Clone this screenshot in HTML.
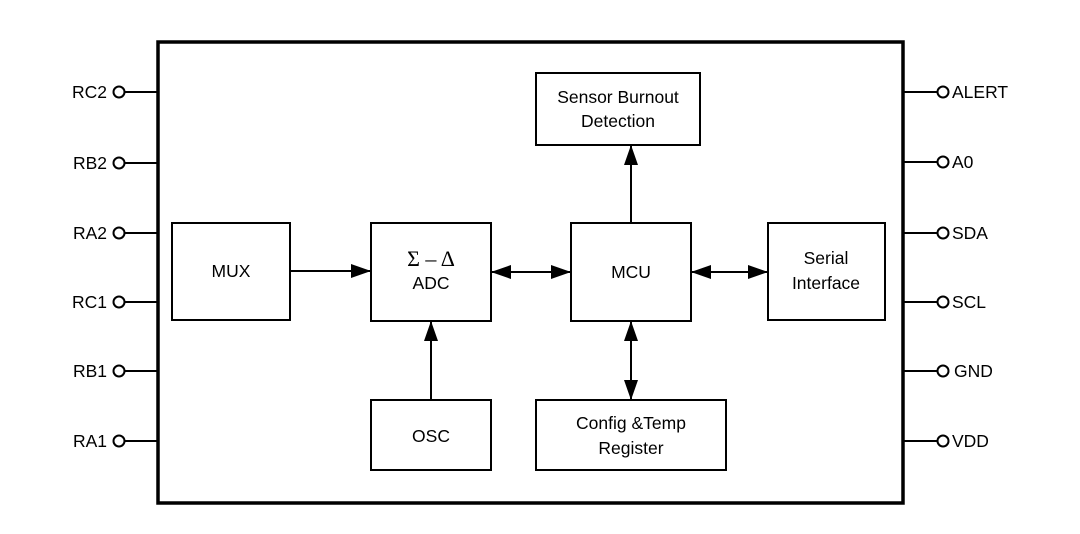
<!DOCTYPE html>
<html><head><style>body{margin:0;background:#fff}</style></head><body>
<svg width="1080" height="529" viewBox="0 0 1080 529" xmlns="http://www.w3.org/2000/svg" font-family="Liberation Sans, sans-serif" font-size="17.5" fill="#000">
<defs>
<marker id="a" markerWidth="20" markerHeight="14" refX="20" refY="7" orient="auto-start-reverse" markerUnits="userSpaceOnUse"><path d="M0,0 L20,7 L0,14 z" fill="#000"/></marker>
</defs>
<rect x="158" y="42" width="745" height="461" fill="none" stroke="#000" stroke-width="3.5"/>
<g stroke="#000" stroke-width="2" fill="none">
<line x1="125" y1="92" x2="158" y2="92"/><circle cx="119" cy="92" r="5.5" fill="#fff"/>
<line x1="125" y1="163" x2="158" y2="163"/><circle cx="119" cy="163" r="5.5" fill="#fff"/>
<line x1="125" y1="233" x2="158" y2="233"/><circle cx="119" cy="233" r="5.5" fill="#fff"/>
<line x1="125" y1="302" x2="158" y2="302"/><circle cx="119" cy="302" r="5.5" fill="#fff"/>
<line x1="125" y1="371" x2="158" y2="371"/><circle cx="119" cy="371" r="5.5" fill="#fff"/>
<line x1="125" y1="441" x2="158" y2="441"/><circle cx="119" cy="441" r="5.5" fill="#fff"/>
<line x1="903" y1="92" x2="937" y2="92"/><circle cx="943" cy="92" r="5.5" fill="#fff"/>
<line x1="903" y1="162" x2="937" y2="162"/><circle cx="943" cy="162" r="5.5" fill="#fff"/>
<line x1="903" y1="233" x2="937" y2="233"/><circle cx="943" cy="233" r="5.5" fill="#fff"/>
<line x1="903" y1="302" x2="937" y2="302"/><circle cx="943" cy="302" r="5.5" fill="#fff"/>
<line x1="903" y1="371" x2="937" y2="371"/><circle cx="943" cy="371" r="5.5" fill="#fff"/>
<line x1="903" y1="441" x2="937" y2="441"/><circle cx="943" cy="441" r="5.5" fill="#fff"/>
<rect x="172" y="223" width="118" height="97"/>
<rect x="371" y="223" width="120" height="98"/>
<rect x="571" y="223" width="120" height="98"/>
<rect x="768" y="223" width="117" height="97"/>
<rect x="536" y="73" width="164" height="72"/>
<rect x="371" y="400" width="120" height="70"/>
<rect x="536" y="400" width="190" height="70"/>
<line x1="290" y1="271" x2="371" y2="271" marker-end="url(#a)"/>
<line x1="491" y1="272" x2="571" y2="272" marker-start="url(#a)" marker-end="url(#a)"/>
<line x1="691" y1="272" x2="768" y2="272" marker-start="url(#a)" marker-end="url(#a)"/>
<line x1="431" y1="400" x2="431" y2="321" marker-end="url(#a)"/>
<line x1="631" y1="321" x2="631" y2="400" marker-start="url(#a)" marker-end="url(#a)"/>
<line x1="631" y1="223" x2="631" y2="145" marker-end="url(#a)"/>
</g>
<g text-anchor="end">
<text x="107" y="98">RC2</text><text x="107" y="169">RB2</text><text x="107" y="239">RA2</text>
<text x="107" y="308">RC1</text><text x="107" y="377">RB1</text><text x="107" y="447">RA1</text>
</g>
<g>
<text x="952" y="98">ALERT</text><text x="952" y="168">A0</text><text x="952" y="239">SDA</text>
<text x="952" y="308">SCL</text><text x="954" y="377">GND</text><text x="952" y="447">VDD</text>
</g>
<g text-anchor="middle">
<text x="231" y="277">MUX</text>
<text x="431" y="266" font-family="Liberation Serif, serif" font-size="22">Σ – Δ</text>
<text x="431" y="289">ADC</text>
<text x="631" y="278">MCU</text>
<text x="826" y="264">Serial</text><text x="826" y="289">Interface</text>
<text x="618" y="103">Sensor Burnout</text><text x="618" y="127">Detection</text>
<text x="431" y="442">OSC</text>
<text x="631" y="429">Config &amp;Temp</text><text x="631" y="454">Register</text>
</g>
</svg>
</body></html>
